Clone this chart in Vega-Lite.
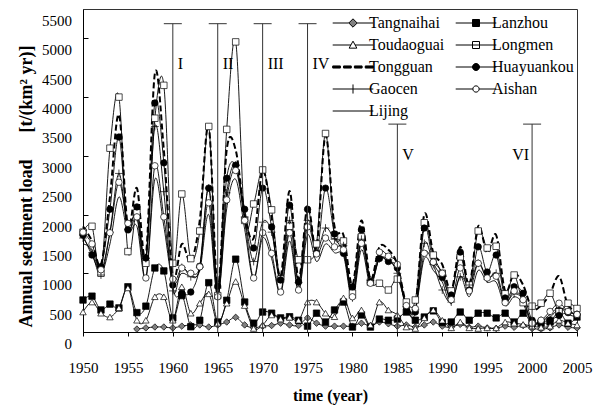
{
"$schema":"https://vega.github.io/schema/vega-lite/v6.json",
"width":494,"height":323,"autosize":"none",
"padding":{"left":83,"top":9,"right":26,"bottom":75},
"config":{"view":{"stroke":"#333","strokeWidth":1},"font":"Liberation Serif","axis":{"labelFont":"Liberation Serif","titleFont":"Liberation Serif","labelColor":"black","titleColor":"black","domainColor":"black","tickColor":"black","grid":false,"labelOverlap":false,"labelFlush":false},
 "legend":{"orient":"none","padding":0,"labelFont":"Liberation Serif","labelFontSize":16,"labelColor":"black","symbolSize":49,"symbolStrokeWidth":1,"symbolOffset":21,"labelOffset":8,"rowPadding":6}},
"resolve":{"scale":{"shape":"independent","fill":"independent","stroke":"independent"},"legend":{"shape":"independent","fill":"independent","stroke":"independent"}},
"datasets":{
"yticks":[{"v":0},{"v":500},{"v":1000},{"v":1500},{"v":2000},{"v":2500},{"v":3000},{"v":3500},{"v":4000},{"v":4500},{"v":5000},{"v":5500}],
"periods":[{"period":"I","year":1960,"top":5250},{"period":"II","year":1965,"top":5250},{"period":"III","year":1970,"top":5250},{"period":"IV","year":1975,"top":5250},{"period":"V","year":1985,"top":3540},{"period":"VI","year":2000,"top":3540}],
"loads":[
{"year":1956,"station":"Tangnaihai","load":50},{"year":1957,"station":"Tangnaihai","load":70},{"year":1958,"station":"Tangnaihai","load":85},{"year":1959,"station":"Tangnaihai","load":85},
{"year":1960,"station":"Tangnaihai","load":70},{"year":1961,"station":"Tangnaihai","load":100},{"year":1962,"station":"Tangnaihai","load":120},{"year":1963,"station":"Tangnaihai","load":120},{"year":1964,"station":"Tangnaihai","load":85},{"year":1965,"station":"Tangnaihai","load":120},{"year":1966,"station":"Tangnaihai","load":170},{"year":1967,"station":"Tangnaihai","load":250},{"year":1968,"station":"Tangnaihai","load":120},{"year":1969,"station":"Tangnaihai","load":70},
{"year":1970,"station":"Tangnaihai","load":100},{"year":1971,"station":"Tangnaihai","load":110},{"year":1972,"station":"Tangnaihai","load":150},{"year":1973,"station":"Tangnaihai","load":120},{"year":1974,"station":"Tangnaihai","load":110},{"year":1975,"station":"Tangnaihai","load":240},{"year":1976,"station":"Tangnaihai","load":150},{"year":1977,"station":"Tangnaihai","load":100},{"year":1978,"station":"Tangnaihai","load":100},{"year":1979,"station":"Tangnaihai","load":100},
{"year":1980,"station":"Tangnaihai","load":100},{"year":1981,"station":"Tangnaihai","load":150},{"year":1982,"station":"Tangnaihai","load":100},{"year":1983,"station":"Tangnaihai","load":170},{"year":1984,"station":"Tangnaihai","load":140},{"year":1985,"station":"Tangnaihai","load":100},{"year":1986,"station":"Tangnaihai","load":120},{"year":1987,"station":"Tangnaihai","load":85},{"year":1988,"station":"Tangnaihai","load":120},{"year":1989,"station":"Tangnaihai","load":170},
{"year":1990,"station":"Tangnaihai","load":100},{"year":1991,"station":"Tangnaihai","load":80},{"year":1992,"station":"Tangnaihai","load":130},{"year":1993,"station":"Tangnaihai","load":80},{"year":1994,"station":"Tangnaihai","load":100},{"year":1995,"station":"Tangnaihai","load":70},{"year":1996,"station":"Tangnaihai","load":60},{"year":1997,"station":"Tangnaihai","load":100},{"year":1998,"station":"Tangnaihai","load":80},{"year":1999,"station":"Tangnaihai","load":110},
{"year":2000,"station":"Tangnaihai","load":60},{"year":2001,"station":"Tangnaihai","load":50},{"year":2002,"station":"Tangnaihai","load":70},{"year":2003,"station":"Tangnaihai","load":120},{"year":2004,"station":"Tangnaihai","load":80},{"year":2005,"station":"Tangnaihai","load":70},

{"year":1950,"station":"Lanzhou","load":545},{"year":1951,"station":"Lanzhou","load":610},{"year":1952,"station":"Lanzhou","load":375},{"year":1953,"station":"Lanzhou","load":475},{"year":1954,"station":"Lanzhou","load":410},{"year":1955,"station":"Lanzhou","load":770},{"year":1956,"station":"Lanzhou","load":330},{"year":1957,"station":"Lanzhou","load":440},{"year":1958,"station":"Lanzhou","load":1090},{"year":1959,"station":"Lanzhou","load":1040},
{"year":1960,"station":"Lanzhou","load":240},{"year":1961,"station":"Lanzhou","load":620},{"year":1962,"station":"Lanzhou","load":90},{"year":1963,"station":"Lanzhou","load":200},{"year":1964,"station":"Lanzhou","load":840},{"year":1965,"station":"Lanzhou","load":170},{"year":1966,"station":"Lanzhou","load":540},{"year":1967,"station":"Lanzhou","load":1240},{"year":1968,"station":"Lanzhou","load":510},{"year":1969,"station":"Lanzhou","load":150},
{"year":1970,"station":"Lanzhou","load":340},{"year":1971,"station":"Lanzhou","load":320},{"year":1972,"station":"Lanzhou","load":240},{"year":1973,"station":"Lanzhou","load":260},{"year":1974,"station":"Lanzhou","load":200},{"year":1975,"station":"Lanzhou","load":100},{"year":1976,"station":"Lanzhou","load":320},{"year":1977,"station":"Lanzhou","load":170},{"year":1978,"station":"Lanzhou","load":375},{"year":1979,"station":"Lanzhou","load":510},
{"year":1980,"station":"Lanzhou","load":85},{"year":1981,"station":"Lanzhou","load":290},{"year":1982,"station":"Lanzhou","load":85},{"year":1983,"station":"Lanzhou","load":220},{"year":1984,"station":"Lanzhou","load":200},{"year":1985,"station":"Lanzhou","load":220},{"year":1986,"station":"Lanzhou","load":340},{"year":1987,"station":"Lanzhou","load":200},{"year":1988,"station":"Lanzhou","load":255},{"year":1989,"station":"Lanzhou","load":360},
{"year":1990,"station":"Lanzhou","load":160},{"year":1991,"station":"Lanzhou","load":170},{"year":1992,"station":"Lanzhou","load":340},{"year":1993,"station":"Lanzhou","load":200},{"year":1994,"station":"Lanzhou","load":320},{"year":1995,"station":"Lanzhou","load":320},{"year":1996,"station":"Lanzhou","load":240},{"year":1997,"station":"Lanzhou","load":320},{"year":1998,"station":"Lanzhou","load":170},{"year":1999,"station":"Lanzhou","load":320},
{"year":2000,"station":"Lanzhou","load":150},{"year":2001,"station":"Lanzhou","load":150},{"year":2002,"station":"Lanzhou","load":170},{"year":2003,"station":"Lanzhou","load":340},{"year":2004,"station":"Lanzhou","load":150},{"year":2005,"station":"Lanzhou","load":255},

{"year":1950,"station":"Toudaoguai","load":340},{"year":1951,"station":"Toudaoguai","load":510},{"year":1952,"station":"Toudaoguai","load":320},{"year":1953,"station":"Toudaoguai","load":255},{"year":1954,"station":"Toudaoguai","load":410},{"year":1955,"station":"Toudaoguai","load":750},{"year":1956,"station":"Toudaoguai","load":200},{"year":1957,"station":"Toudaoguai","load":200},{"year":1958,"station":"Toudaoguai","load":600},{"year":1959,"station":"Toudaoguai","load":600},
{"year":1960,"station":"Toudaoguai","load":200},{"year":1961,"station":"Toudaoguai","load":770},{"year":1962,"station":"Toudaoguai","load":320},{"year":1963,"station":"Toudaoguai","load":490},{"year":1964,"station":"Toudaoguai","load":650},{"year":1965,"station":"Toudaoguai","load":150},{"year":1966,"station":"Toudaoguai","load":490},{"year":1967,"station":"Toudaoguai","load":860},{"year":1968,"station":"Toudaoguai","load":450},{"year":1969,"station":"Toudaoguai","load":60},
{"year":1970,"station":"Toudaoguai","load":120},{"year":1971,"station":"Toudaoguai","load":290},{"year":1972,"station":"Toudaoguai","load":220},{"year":1973,"station":"Toudaoguai","load":250},{"year":1974,"station":"Toudaoguai","load":200},{"year":1975,"station":"Toudaoguai","load":510},{"year":1976,"station":"Toudaoguai","load":510},{"year":1977,"station":"Toudaoguai","load":320},{"year":1978,"station":"Toudaoguai","load":260},{"year":1979,"station":"Toudaoguai","load":580},
{"year":1980,"station":"Toudaoguai","load":240},{"year":1981,"station":"Toudaoguai","load":375},{"year":1982,"station":"Toudaoguai","load":120},{"year":1983,"station":"Toudaoguai","load":510},{"year":1984,"station":"Toudaoguai","load":375},{"year":1985,"station":"Toudaoguai","load":290},{"year":1986,"station":"Toudaoguai","load":85},{"year":1987,"station":"Toudaoguai","load":60},{"year":1988,"station":"Toudaoguai","load":240},{"year":1989,"station":"Toudaoguai","load":375},
{"year":1990,"station":"Toudaoguai","load":200},{"year":1991,"station":"Toudaoguai","load":70},{"year":1992,"station":"Toudaoguai","load":170},{"year":1993,"station":"Toudaoguai","load":70},{"year":1994,"station":"Toudaoguai","load":60},{"year":1995,"station":"Toudaoguai","load":70},{"year":1996,"station":"Toudaoguai","load":70},{"year":1997,"station":"Toudaoguai","load":170},{"year":1998,"station":"Toudaoguai","load":150},{"year":1999,"station":"Toudaoguai","load":130},
{"year":2000,"station":"Toudaoguai","load":100},{"year":2001,"station":"Toudaoguai","load":80},{"year":2002,"station":"Toudaoguai","load":100},{"year":2003,"station":"Toudaoguai","load":200},{"year":2004,"station":"Toudaoguai","load":150},{"year":2005,"station":"Toudaoguai","load":120},

{"year":1950,"station":"Longmen","load":1700},{"year":1951,"station":"Longmen","load":1800},{"year":1952,"station":"Longmen","load":1000},{"year":1953,"station":"Longmen","load":3130},{"year":1954,"station":"Longmen","load":4000},{"year":1955,"station":"Longmen","load":1370},{"year":1956,"station":"Longmen","load":2030},{"year":1957,"station":"Longmen","load":1170},{"year":1958,"station":"Longmen","load":3640},{"year":1959,"station":"Longmen","load":4200},
{"year":1960,"station":"Longmen","load":1170},{"year":1961,"station":"Longmen","load":2350},{"year":1962,"station":"Longmen","load":1250},{"year":1963,"station":"Longmen","load":1720},{"year":1964,"station":"Longmen","load":3500},{"year":1965,"station":"Longmen","load":620},{"year":1966,"station":"Longmen","load":3450},{"year":1967,"station":"Longmen","load":4940},{"year":1968,"station":"Longmen","load":1900},{"year":1969,"station":"Longmen","load":2180},
{"year":1970,"station":"Longmen","load":2760},{"year":1971,"station":"Longmen","load":2080},{"year":1972,"station":"Longmen","load":900},{"year":1973,"station":"Longmen","load":1800},{"year":1974,"station":"Longmen","load":1230},{"year":1975,"station":"Longmen","load":1230},{"year":1976,"station":"Longmen","load":1500},{"year":1977,"station":"Longmen","load":3380},{"year":1978,"station":"Longmen","load":1650},{"year":1979,"station":"Longmen","load":1550},
{"year":1980,"station":"Longmen","load":660},{"year":1981,"station":"Longmen","load":1620},{"year":1982,"station":"Longmen","load":850},{"year":1983,"station":"Longmen","load":830},{"year":1984,"station":"Longmen","load":715},{"year":1985,"station":"Longmen","load":900},{"year":1986,"station":"Longmen","load":510},{"year":1987,"station":"Longmen","load":545},{"year":1988,"station":"Longmen","load":1860},{"year":1989,"station":"Longmen","load":1310},
{"year":1990,"station":"Longmen","load":1000},{"year":1991,"station":"Longmen","load":700},{"year":1992,"station":"Longmen","load":1280},{"year":1993,"station":"Longmen","load":800},{"year":1994,"station":"Longmen","load":1720},{"year":1995,"station":"Longmen","load":1430},{"year":1996,"station":"Longmen","load":1460},{"year":1997,"station":"Longmen","load":650},{"year":1998,"station":"Longmen","load":970},{"year":1999,"station":"Longmen","load":500},
{"year":2000,"station":"Longmen","load":440},{"year":2001,"station":"Longmen","load":490},{"year":2002,"station":"Longmen","load":660},{"year":2003,"station":"Longmen","load":350},{"year":2004,"station":"Longmen","load":490},{"year":2005,"station":"Longmen","load":400},

{"year":1950,"station":"Tongguan","load":1800},{"year":1951,"station":"Tongguan","load":1550},{"year":1952,"station":"Tongguan","load":1150},{"year":1953,"station":"Tongguan","load":2300},{"year":1954,"station":"Tongguan","load":3700},{"year":1955,"station":"Tongguan","load":1800},{"year":1956,"station":"Tongguan","load":2450},{"year":1957,"station":"Tongguan","load":1300},{"year":1958,"station":"Tongguan","load":4400},{"year":1959,"station":"Tongguan","load":3100},
{"year":1960,"station":"Tongguan","load":950},{"year":1961,"station":"Tongguan","load":1500},{"year":1962,"station":"Tongguan","load":1200},{"year":1963,"station":"Tongguan","load":1900},{"year":1964,"station":"Tongguan","load":3500},{"year":1965,"station":"Tongguan","load":750},{"year":1966,"station":"Tongguan","load":3100},{"year":1967,"station":"Tongguan","load":3100},{"year":1968,"station":"Tongguan","load":2000},{"year":1969,"station":"Tongguan","load":1600},
{"year":1970,"station":"Tongguan","load":2750},{"year":1971,"station":"Tongguan","load":1950},{"year":1972,"station":"Tongguan","load":950},{"year":1973,"station":"Tongguan","load":2400},{"year":1974,"station":"Tongguan","load":900},{"year":1975,"station":"Tongguan","load":2150},{"year":1976,"station":"Tongguan","load":1450},{"year":1977,"station":"Tongguan","load":3350},{"year":1978,"station":"Tongguan","load":1800},{"year":1979,"station":"Tongguan","load":1650},
{"year":1980,"station":"Tongguan","load":800},{"year":1981,"station":"Tongguan","load":1900},{"year":1982,"station":"Tongguan","load":900},{"year":1983,"station":"Tongguan","load":1450},{"year":1984,"station":"Tongguan","load":1400},{"year":1985,"station":"Tongguan","load":1150},{"year":1986,"station":"Tongguan","load":480},{"year":1987,"station":"Tongguan","load":450},{"year":1988,"station":"Tongguan","load":2000},{"year":1989,"station":"Tongguan","load":1350},
{"year":1990,"station":"Tongguan","load":1150},{"year":1991,"station":"Tongguan","load":700},{"year":1992,"station":"Tongguan","load":1450},{"year":1993,"station":"Tongguan","load":800},{"year":1994,"station":"Tongguan","load":1800},{"year":1995,"station":"Tongguan","load":1350},{"year":1996,"station":"Tongguan","load":1650},{"year":1997,"station":"Tongguan","load":700},{"year":1998,"station":"Tongguan","load":1000},{"year":1999,"station":"Tongguan","load":800},
{"year":2000,"station":"Tongguan","load":400},{"year":2001,"station":"Tongguan","load":450},{"year":2002,"station":"Tongguan","load":650},{"year":2003,"station":"Tongguan","load":950},{"year":2004,"station":"Tongguan","load":450},{"year":2005,"station":"Tongguan","load":400},

{"year":1950,"station":"Huayuankou","load":1650},{"year":1951,"station":"Huayuankou","load":1310},{"year":1952,"station":"Huayuankou","load":1110},{"year":1953,"station":"Huayuankou","load":2090},{"year":1954,"station":"Huayuankou","load":3320},{"year":1955,"station":"Huayuankou","load":1740},{"year":1956,"station":"Huayuankou","load":2130},{"year":1957,"station":"Huayuankou","load":1260},{"year":1958,"station":"Huayuankou","load":3900},{"year":1959,"station":"Huayuankou","load":2880},
{"year":1960,"station":"Huayuankou","load":800},{"year":1961,"station":"Huayuankou","load":660},{"year":1962,"station":"Huayuankou","load":680},{"year":1963,"station":"Huayuankou","load":1120},{"year":1964,"station":"Huayuankou","load":2450},{"year":1965,"station":"Huayuankou","load":780},{"year":1966,"station":"Huayuankou","load":2620},{"year":1967,"station":"Huayuankou","load":2840},{"year":1968,"station":"Huayuankou","load":2090},{"year":1969,"station":"Huayuankou","load":1430},
{"year":1970,"station":"Huayuankou","load":2450},{"year":1971,"station":"Huayuankou","load":1790},{"year":1972,"station":"Huayuankou","load":885},{"year":1973,"station":"Huayuankou","load":2160},{"year":1974,"station":"Huayuankou","load":850},{"year":1975,"station":"Huayuankou","load":2090},{"year":1976,"station":"Huayuankou","load":1340},{"year":1977,"station":"Huayuankou","load":2450},{"year":1978,"station":"Huayuankou","load":1670},{"year":1979,"station":"Huayuankou","load":1340},
{"year":1980,"station":"Huayuankou","load":770},{"year":1981,"station":"Huayuankou","load":1740},{"year":1982,"station":"Huayuankou","load":850},{"year":1983,"station":"Huayuankou","load":1250},{"year":1984,"station":"Huayuankou","load":1200},{"year":1985,"station":"Huayuankou","load":1090},{"year":1986,"station":"Huayuankou","load":430},{"year":1987,"station":"Huayuankou","load":340},{"year":1988,"station":"Huayuankou","load":1770},{"year":1989,"station":"Huayuankou","load":1190},
{"year":1990,"station":"Huayuankou","load":930},{"year":1991,"station":"Huayuankou","load":630},{"year":1992,"station":"Huayuankou","load":1360},{"year":1993,"station":"Huayuankou","load":715},{"year":1994,"station":"Huayuankou","load":1450},{"year":1995,"station":"Huayuankou","load":1020},{"year":1996,"station":"Huayuankou","load":1310},{"year":1997,"station":"Huayuankou","load":580},{"year":1998,"station":"Huayuankou","load":770},{"year":1999,"station":"Huayuankou","load":660},
{"year":2000,"station":"Huayuankou","load":200},{"year":2001,"station":"Huayuankou","load":180},{"year":2002,"station":"Huayuankou","load":200},{"year":2003,"station":"Huayuankou","load":280},{"year":2004,"station":"Huayuankou","load":330},{"year":2005,"station":"Huayuankou","load":300},

{"year":1950,"station":"Gaocen","load":1600},{"year":1951,"station":"Gaocen","load":1350},{"year":1952,"station":"Gaocen","load":970},{"year":1953,"station":"Gaocen","load":1700},{"year":1954,"station":"Gaocen","load":2700},{"year":1955,"station":"Gaocen","load":1750},{"year":1956,"station":"Gaocen","load":1950},{"year":1957,"station":"Gaocen","load":1250},{"year":1958,"station":"Gaocen","load":3500},{"year":1959,"station":"Gaocen","load":2390},
{"year":1960,"station":"Gaocen","load":700},{"year":1961,"station":"Gaocen","load":1100},{"year":1962,"station":"Gaocen","load":940},{"year":1963,"station":"Gaocen","load":1100},{"year":1964,"station":"Gaocen","load":2450},{"year":1965,"station":"Gaocen","load":750},{"year":1966,"station":"Gaocen","load":2370},{"year":1967,"station":"Gaocen","load":2840},{"year":1968,"station":"Gaocen","load":1960},{"year":1969,"station":"Gaocen","load":1200},
{"year":1970,"station":"Gaocen","load":1870},{"year":1971,"station":"Gaocen","load":1700},{"year":1972,"station":"Gaocen","load":900},{"year":1973,"station":"Gaocen","load":1900},{"year":1974,"station":"Gaocen","load":840},{"year":1975,"station":"Gaocen","load":1900},{"year":1976,"station":"Gaocen","load":1380},{"year":1977,"station":"Gaocen","load":1770},{"year":1978,"station":"Gaocen","load":1580},{"year":1979,"station":"Gaocen","load":1470},
{"year":1980,"station":"Gaocen","load":580},{"year":1981,"station":"Gaocen","load":1580},{"year":1982,"station":"Gaocen","load":880},{"year":1983,"station":"Gaocen","load":1250},{"year":1984,"station":"Gaocen","load":1230},{"year":1985,"station":"Gaocen","load":1000},{"year":1986,"station":"Gaocen","load":430},{"year":1987,"station":"Gaocen","load":380},{"year":1988,"station":"Gaocen","load":1510},{"year":1989,"station":"Gaocen","load":1150},
{"year":1990,"station":"Gaocen","load":715},{"year":1991,"station":"Gaocen","load":510},{"year":1992,"station":"Gaocen","load":940},{"year":1993,"station":"Gaocen","load":800},{"year":1994,"station":"Gaocen","load":1170},{"year":1995,"station":"Gaocen","load":900},{"year":1996,"station":"Gaocen","load":1000},{"year":1997,"station":"Gaocen","load":530},{"year":1998,"station":"Gaocen","load":650},{"year":1999,"station":"Gaocen","load":550},
{"year":2000,"station":"Gaocen","load":150},{"year":2001,"station":"Gaocen","load":200},{"year":2002,"station":"Gaocen","load":250},{"year":2003,"station":"Gaocen","load":400},{"year":2004,"station":"Gaocen","load":350},{"year":2005,"station":"Gaocen","load":300},

{"year":1950,"station":"Aishan","load":1700},{"year":1951,"station":"Aishan","load":1500},{"year":1952,"station":"Aishan","load":1060},{"year":1953,"station":"Aishan","load":1690},{"year":1954,"station":"Aishan","load":2550},{"year":1955,"station":"Aishan","load":1850},{"year":1956,"station":"Aishan","load":1960},{"year":1957,"station":"Aishan","load":920},{"year":1958,"station":"Aishan","load":2830},{"year":1959,"station":"Aishan","load":1960},
{"year":1960,"station":"Aishan","load":900},{"year":1961,"station":"Aishan","load":1090},{"year":1962,"station":"Aishan","load":1000},{"year":1963,"station":"Aishan","load":1110},{"year":1964,"station":"Aishan","load":2200},{"year":1965,"station":"Aishan","load":600},{"year":1966,"station":"Aishan","load":2250},{"year":1967,"station":"Aishan","load":2750},{"year":1968,"station":"Aishan","load":1900},{"year":1969,"station":"Aishan","load":920},
{"year":1970,"station":"Aishan","load":1690},{"year":1971,"station":"Aishan","load":1340},{"year":1972,"station":"Aishan","load":680},{"year":1973,"station":"Aishan","load":1690},{"year":1974,"station":"Aishan","load":715},{"year":1975,"station":"Aishan","load":1790},{"year":1976,"station":"Aishan","load":1330},{"year":1977,"station":"Aishan","load":1600},{"year":1978,"station":"Aishan","load":1450},{"year":1979,"station":"Aishan","load":1400},
{"year":1980,"station":"Aishan","load":600},{"year":1981,"station":"Aishan","load":1510},{"year":1982,"station":"Aishan","load":830},{"year":1983,"station":"Aishan","load":1360},{"year":1984,"station":"Aishan","load":1290},{"year":1985,"station":"Aishan","load":1150},{"year":1986,"station":"Aishan","load":450},{"year":1987,"station":"Aishan","load":400},{"year":1988,"station":"Aishan","load":1340},{"year":1989,"station":"Aishan","load":1190},
{"year":1990,"station":"Aishan","load":1000},{"year":1991,"station":"Aishan","load":550},{"year":1992,"station":"Aishan","load":1090},{"year":1993,"station":"Aishan","load":700},{"year":1994,"station":"Aishan","load":1170},{"year":1995,"station":"Aishan","load":920},{"year":1996,"station":"Aishan","load":950},{"year":1997,"station":"Aishan","load":500},{"year":1998,"station":"Aishan","load":700},{"year":1999,"station":"Aishan","load":550},
{"year":2000,"station":"Aishan","load":150},{"year":2001,"station":"Aishan","load":200},{"year":2002,"station":"Aishan","load":350},{"year":2003,"station":"Aishan","load":490},{"year":2004,"station":"Aishan","load":350},{"year":2005,"station":"Aishan","load":300},

{"year":1950,"station":"Lijing","load":1500},{"year":1951,"station":"Lijing","load":1400},{"year":1952,"station":"Lijing","load":1000},{"year":1953,"station":"Lijing","load":1500},{"year":1954,"station":"Lijing","load":2300},{"year":1955,"station":"Lijing","load":1700},{"year":1956,"station":"Lijing","load":1800},{"year":1957,"station":"Lijing","load":900},{"year":1958,"station":"Lijing","load":2600},{"year":1959,"station":"Lijing","load":1800},
{"year":1960,"station":"Lijing","load":850},{"year":1961,"station":"Lijing","load":1000},{"year":1962,"station":"Lijing","load":950},{"year":1963,"station":"Lijing","load":1050},{"year":1964,"station":"Lijing","load":2000},{"year":1965,"station":"Lijing","load":600},{"year":1966,"station":"Lijing","load":2100},{"year":1967,"station":"Lijing","load":2600},{"year":1968,"station":"Lijing","load":1750},{"year":1969,"station":"Lijing","load":900},
{"year":1970,"station":"Lijing","load":1600},{"year":1971,"station":"Lijing","load":1250},{"year":1972,"station":"Lijing","load":650},{"year":1973,"station":"Lijing","load":1550},{"year":1974,"station":"Lijing","load":700},{"year":1975,"station":"Lijing","load":1650},{"year":1976,"station":"Lijing","load":1200},{"year":1977,"station":"Lijing","load":1500},{"year":1978,"station":"Lijing","load":1350},{"year":1979,"station":"Lijing","load":1300},
{"year":1980,"station":"Lijing","load":550},{"year":1981,"station":"Lijing","load":1400},{"year":1982,"station":"Lijing","load":800},{"year":1983,"station":"Lijing","load":1250},{"year":1984,"station":"Lijing","load":1200},{"year":1985,"station":"Lijing","load":1050},{"year":1986,"station":"Lijing","load":420},{"year":1987,"station":"Lijing","load":380},{"year":1988,"station":"Lijing","load":1250},{"year":1989,"station":"Lijing","load":1050},
{"year":1990,"station":"Lijing","load":850},{"year":1991,"station":"Lijing","load":480},{"year":1992,"station":"Lijing","load":950},{"year":1993,"station":"Lijing","load":600},{"year":1994,"station":"Lijing","load":1050},{"year":1995,"station":"Lijing","load":850},{"year":1996,"station":"Lijing","load":850},{"year":1997,"station":"Lijing","load":450},{"year":1998,"station":"Lijing","load":600},{"year":1999,"station":"Lijing","load":480},
{"year":2000,"station":"Lijing","load":130},{"year":2001,"station":"Lijing","load":180},{"year":2002,"station":"Lijing","load":300},{"year":2003,"station":"Lijing","load":420},{"year":2004,"station":"Lijing","load":300},{"year":2005,"station":"Lijing","load":260}
]},
"layer":[
{"data":{"name":"loads"},
 "transform":[{"filter":"datum.station !== 'Tongguan'"}],
 "mark":{"type":"line","interpolate":"cardinal","stroke":"black","strokeWidth":0.9},
 "encoding":{
  "x":{"field":"year","type":"quantitative","scale":{"domain":[1950,2005],"nice":false,"zero":false},
       "axis":{"title":"time (year)","values":[1950,1955,1960,1965,1970,1975,1980,1985,1990,1995,2000,2005],"format":"d","tickSize":4,"labelPadding":24,"labelFontSize":15,"titleFontSize":16,"titleFontWeight":"bold","titlePadding":12,"labelOverlap":false}},
  "y":{"field":"load","type":"quantitative","scale":{"domain":[0,5500],"nice":false},
       "axis":{"title":"Annual sediment load\u00a0\u00a0\u00a0\u00a0\u00a0\u00a0[t/(km\u00b2 yr)]","values":[0,500,1000,1500,2000,2500,3000,3500,4000,4500,5000,5500],"format":"d","tickSize":-5,"labels":false,"titleFontSize":18,"titleFontWeight":"bold","titlePadding":47,"titleY":177}},
  "detail":{"field":"station","type":"nominal"}}},
{"data":{"name":"yticks"},
 "mark":{"type":"text","align":"right","baseline":"middle","dx":-11,"dy":12,"font":"Liberation Serif","fontSize":15,"color":"black"},
 "encoding":{"x":{"datum":1950},"y":{"field":"v","type":"quantitative"},"text":{"field":"v","type":"quantitative","format":"d"}}},
{"data":{"name":"loads"},
 "transform":[{"filter":"datum.station === 'Tongguan'"}],
 "mark":{"type":"line","interpolate":"cardinal","stroke":"black","strokeWidth":2,"strokeDash":[6,3]},
 "encoding":{"x":{"field":"year","type":"quantitative"},"y":{"field":"load","type":"quantitative"}}},
{"data":{"name":"loads"},
 "transform":[{"filter":"datum.station !== 'Tongguan' && datum.station !== 'Lijing'"}],
 "mark":{"type":"point","filled":true,"stroke":"black","strokeWidth":0.7,"opacity":1,"size":42},
 "encoding":{"x":{"field":"year","type":"quantitative"},"y":{"field":"load","type":"quantitative"},
  "shape":{"field":"station","type":"nominal","legend":null,
   "scale":{"domain":["Tangnaihai","Lanzhou","Toudaoguai","Longmen","Huayuankou","Gaocen","Aishan"],
            "range":["diamond","square","triangle-up","square","circle","M-1.2,0H1.2M0,-1.2V1.2","circle"]}},
  "fill":{"field":"station","type":"nominal","legend":null,
   "scale":{"domain":["Tangnaihai","Lanzhou","Toudaoguai","Longmen","Huayuankou","Gaocen","Aishan"],
            "range":["#808080","black","white","white","black","transparent","white"]}}}},
{"data":{"name":"loads"},
 "transform":[{"filter":"datum.year < 0"}],
 "mark":{"type":"point","filled":true,"opacity":1,"size":49,"strokeWidth":1},
 "encoding":{"x":{"field":"year","type":"quantitative"},"y":{"field":"load","type":"quantitative"},
  "shape":{"field":"station","type":"nominal",
   "scale":{"domain":["Tangnaihai","Toudaoguai","Tongguan","Gaocen","Lijing"],
            "range":["M-5.8,0H-1.2M1.2,0H5.8M0,-1.2L1.2,0L0,1.2L-1.2,0Z","M-5.8,0H-0.6M0.6,0H5.8M0,-1.1L1.1,0.9H-1.1Z","M-5.8,-0.3H-3.6V0.3H-5.8ZM-2.7,-0.3H-0.5V0.3H-2.7ZM0.4,-0.3H2.6V0.3H0.4ZM3.5,-0.3H5.8V0.3H3.5Z","M-5.8,0H5.8M0,-1.3V1.3","M-5.8,0H5.8"]},
   "legend":{"title":null,"legendX":241,"legendY":6}},
  "fill":{"field":"station","type":"nominal",
   "scale":{"domain":["Tangnaihai","Toudaoguai","Tongguan","Gaocen","Lijing"],
            "range":["#808080","white","black","transparent","transparent"]},
   "legend":{"title":null,"legendX":241,"legendY":6}},
  "stroke":{"field":"station","type":"nominal",
   "scale":{"domain":["Tangnaihai","Toudaoguai","Tongguan","Gaocen","Lijing"],
            "range":["black","black","black","black","black"]},
   "legend":{"title":null,"legendX":241,"legendY":6}}}},
{"data":{"name":"loads"},
 "transform":[{"filter":"datum.year < 0"}],
 "mark":{"type":"point","filled":true,"opacity":1,"size":49,"strokeWidth":1},
 "encoding":{"x":{"field":"year","type":"quantitative"},"y":{"field":"load","type":"quantitative"},
  "shape":{"field":"station","type":"nominal",
   "scale":{"domain":["Lanzhou","Longmen","Huayuankou","Aishan"],
            "range":["M-5.8,0H5.8M-1,-1H1V1H-1Z","M-5.8,0H5.8M-1,-1H1V1H-1Z","M-5.8,0H5.8M-1,0A1,1 0 1,0 1,0A1,1 0 1,0 -1,0Z","M-5.8,0H-0.9M0.9,0H5.8M-0.9,0A0.9,0.9 0 1,0 0.9,0A0.9,0.9 0 1,0 -0.9,0Z"]},
   "legend":{"title":null,"legendX":364,"legendY":6}},
  "fill":{"field":"station","type":"nominal",
   "scale":{"domain":["Lanzhou","Longmen","Huayuankou","Aishan"],
            "range":["black","white","black","white"]},
   "legend":{"title":null,"legendX":364,"legendY":6}},
  "stroke":{"field":"station","type":"nominal",
   "scale":{"domain":["Lanzhou","Longmen","Huayuankou","Aishan"],
            "range":["black","black","black","black"]},
   "legend":{"title":null,"legendX":364,"legendY":6}}}},
{"data":{"name":"periods"},
 "mark":{"type":"rule","stroke":"#333","strokeWidth":1},
 "encoding":{"x":{"field":"year","type":"quantitative"},"y":{"field":"top","type":"quantitative"},"y2":{"datum":0}}},
{"data":{"name":"periods"},
 "mark":{"type":"tick","orient":"horizontal","size":18,"thickness":1,"color":"#333","opacity":1},
 "encoding":{"x":{"field":"year","type":"quantitative"},"y":{"field":"top","type":"quantitative"}}},
{"data":{"name":"periods"},
 "transform":[{"filter":"datum.top > 5000"}],
 "mark":{"type":"text","align":"left","baseline":"middle","dx":5,"font":"Liberation Serif","fontSize":16,"color":"black"},
 "encoding":{"x":{"field":"year","type":"quantitative"},"y":{"datum":4560},"text":{"field":"period"}}},
{"data":{"name":"periods"},
 "transform":[{"filter":"datum.period === 'V'"}],
 "mark":{"type":"text","align":"left","baseline":"middle","dx":5,"font":"Liberation Serif","fontSize":16,"color":"black"},
 "encoding":{"x":{"field":"year","type":"quantitative"},"y":{"datum":3010},"text":{"field":"period"}}},
{"data":{"name":"periods"},
 "transform":[{"filter":"datum.period === 'VI'"}],
 "mark":{"type":"text","align":"right","baseline":"middle","dx":-3,"font":"Liberation Serif","fontSize":16,"color":"black"},
 "encoding":{"x":{"field":"year","type":"quantitative"},"y":{"datum":3010},"text":{"field":"period"}}}
]
}
